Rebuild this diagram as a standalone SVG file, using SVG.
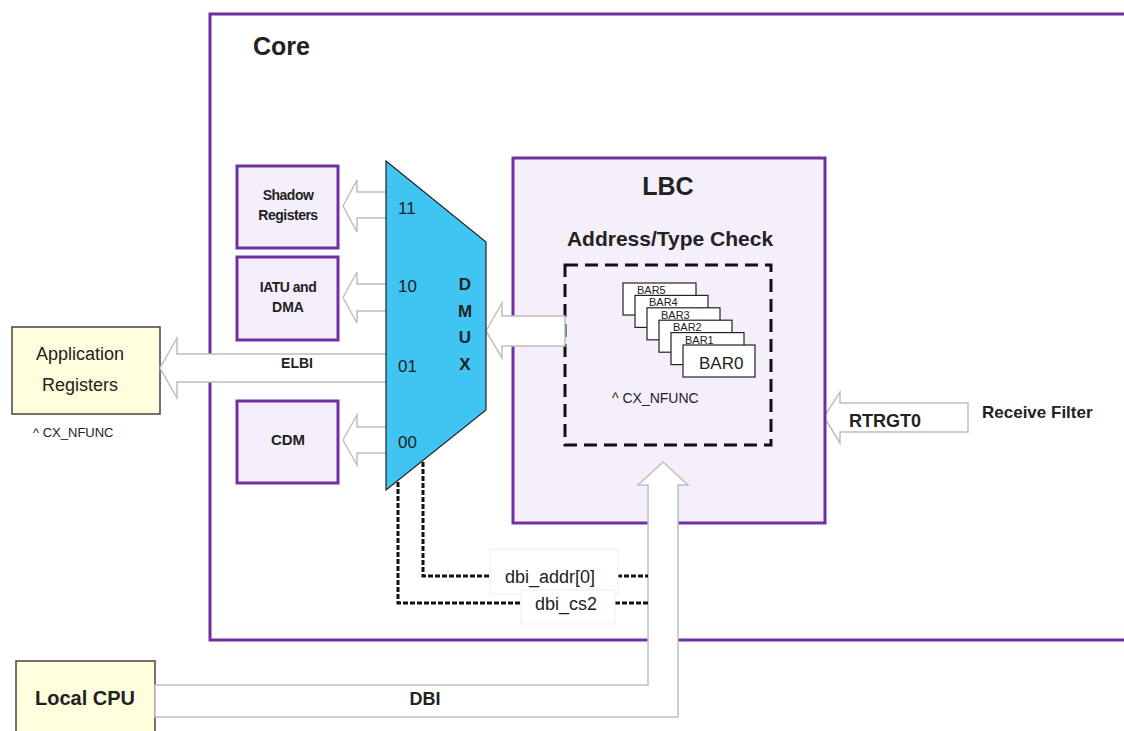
<svg xmlns="http://www.w3.org/2000/svg" width="1124" height="731" viewBox="0 0 1124 731">
<style>
.purple{fill:#F4EFFB;stroke:#7030A0;stroke-width:3}
.yellow{fill:#FFFFDD;stroke:#444;stroke-width:1.5}
.arrow{fill:#FFFFFF;stroke:#BFBFBF;stroke-width:1.5;stroke-linejoin:miter}
.dot{fill:none;stroke:#111;stroke-width:3;stroke-dasharray:5 2}
.lbl{fill:#FFFFFF;stroke:#EEEEEE;stroke-width:1}
text{font-family:"Liberation Sans",Arial,sans-serif;fill:#222}
.b{font-weight:bold}
.bar{fill:#FFFFFF;stroke:#222;stroke-width:1.2}
.bt{font-size:11px}
</style>
<rect width="1124" height="731" fill="#FFFFFF"/>
<g id="core">
<rect x="210" y="14" width="940" height="626" fill="#FFFFFF" stroke="#7030A0" stroke-width="3"/>
<text x="253" y="55" class="b" font-size="25">Core</text>
</g>
<g id="receive-filter">
<polygon class="arrow" points="824,417 840,392 840,403 968,403 968,432 840,432 840,443"/>
<text x="849" y="427" class="b" font-size="18">RTRGT0</text>
<text x="982" y="418" class="b" font-size="17">Receive Filter</text>
</g>
<g id="lbc">
<rect class="purple" x="513" y="158" width="312" height="365"/>
<text x="668" y="195" class="b" font-size="25" text-anchor="middle">LBC</text>
<text x="670" y="246" class="b" font-size="21" text-anchor="middle">Address/Type Check</text>
<rect x="565" y="265" width="206" height="180" fill="none" stroke="#111" stroke-width="3" stroke-dasharray="13 7"/>
<g id="bars">
<rect class="bar" x="623" y="283" width="73" height="32"/>
<rect class="bar" x="635" y="295.4" width="73" height="32"/>
<rect class="bar" x="647" y="307.8" width="73" height="32"/>
<rect class="bar" x="659" y="320.2" width="73" height="32"/>
<rect class="bar" x="671" y="332.6" width="73" height="32"/>
<rect class="bar" x="683" y="345" width="72" height="32"/>
<text x="637" y="294" class="bt">BAR5</text>
<text x="649" y="306.4" class="bt">BAR4</text>
<text x="661" y="318.8" class="bt">BAR3</text>
<text x="673" y="331.2" class="bt">BAR2</text>
<text x="685" y="343.6" class="bt">BAR1</text>
<text x="699" y="369" font-size="17">BAR0</text>
</g>
<text x="612" y="403" font-size="14">^ CX_NFUNC</text>
</g>
<g id="shadow-registers">
<rect class="purple" x="237" y="166" width="101" height="82"/>
<text x="288" y="200" class="b" font-size="14" text-anchor="middle" letter-spacing="-0.5">Shadow</text>
<text x="288" y="220" class="b" font-size="14" text-anchor="middle" letter-spacing="-0.5">Registers</text>
</g>
<g id="iatu-dma">
<rect class="purple" x="237" y="257" width="101" height="83"/>
<text x="288" y="292" class="b" font-size="14" text-anchor="middle" letter-spacing="-0.5">IATU and</text>
<text x="288" y="312" class="b" font-size="14" text-anchor="middle">DMA</text>
</g>
<g id="cdm">
<rect class="purple" x="237" y="401" width="101" height="82"/>
<text x="288" y="445" class="b" font-size="15" text-anchor="middle">CDM</text>
</g>
<g id="application-registers">
<rect class="yellow" x="12" y="327" width="148" height="87"/>
<text x="80" y="360" font-size="18" text-anchor="middle" fill="#333">Application</text>
<text x="80" y="391" font-size="18" text-anchor="middle" fill="#333">Registers</text>
<text x="33" y="437" font-size="13">^ CX_NFUNC</text>
</g>
<g id="local-cpu">
<rect class="yellow" x="16" y="661" width="139" height="80"/>
<text x="85" y="705" class="b" font-size="20" text-anchor="middle">Local CPU</text>
</g>
<g id="connectors">
<polygon class="arrow" points="343,206 357,180 357,192 390,192 390,218 357,218 357,232"/>
<polygon class="arrow" points="343,297.5 357,272 357,284 390,284 390,311 357,311 357,323"/>
<polygon class="arrow" points="343,440 357,415 357,427 390,427 390,453 357,453 357,465"/>
<polygon class="arrow" points="160,368 177,338 177,354 390,354 390,382 177,382 177,398"/>
<text x="297" y="368" class="b" font-size="14" text-anchor="middle">ELBI</text>
<polygon class="arrow" points="486,331 502,303 502,316 565,316 565,346 502,346 502,358"/>
<polygon class="arrow" points="155,685 648,685 648,485 638,485 663,462 688,485 678,485 678,717 155,717"/>
<text x="425" y="705" class="b" font-size="18" text-anchor="middle">DBI</text>
<path class="dot" d="M423,462 V576 H490 M617,576 H648"/>
<path class="dot" d="M398,482 V603 H521 M615,603 H648"/>
<rect class="lbl" x="490" y="549" width="128" height="45"/>
<rect class="lbl" x="521" y="590" width="94" height="34"/>
<text x="550" y="583" font-size="18" text-anchor="middle" fill="#333">dbi_addr[0]</text>
<text x="566" y="610" font-size="18" text-anchor="middle" fill="#333">dbi_cs2</text>
</g>
<g id="dmux">
<polygon points="386,161 486,242 486,410 386,490" fill="#40C4F2" stroke="#222" stroke-width="1.2"/>
<text x="398" y="214" font-size="17">11</text>
<text x="398" y="292" font-size="17">10</text>
<text x="398" y="372" font-size="17">01</text>
<text x="398" y="448" font-size="17">00</text>
<text x="465" y="290" class="b" font-size="17" text-anchor="middle">D</text>
<text x="465" y="317" class="b" font-size="17" text-anchor="middle">M</text>
<text x="465" y="343" class="b" font-size="17" text-anchor="middle">U</text>
<text x="465" y="370" class="b" font-size="17" text-anchor="middle">X</text>
</g>
</svg>
